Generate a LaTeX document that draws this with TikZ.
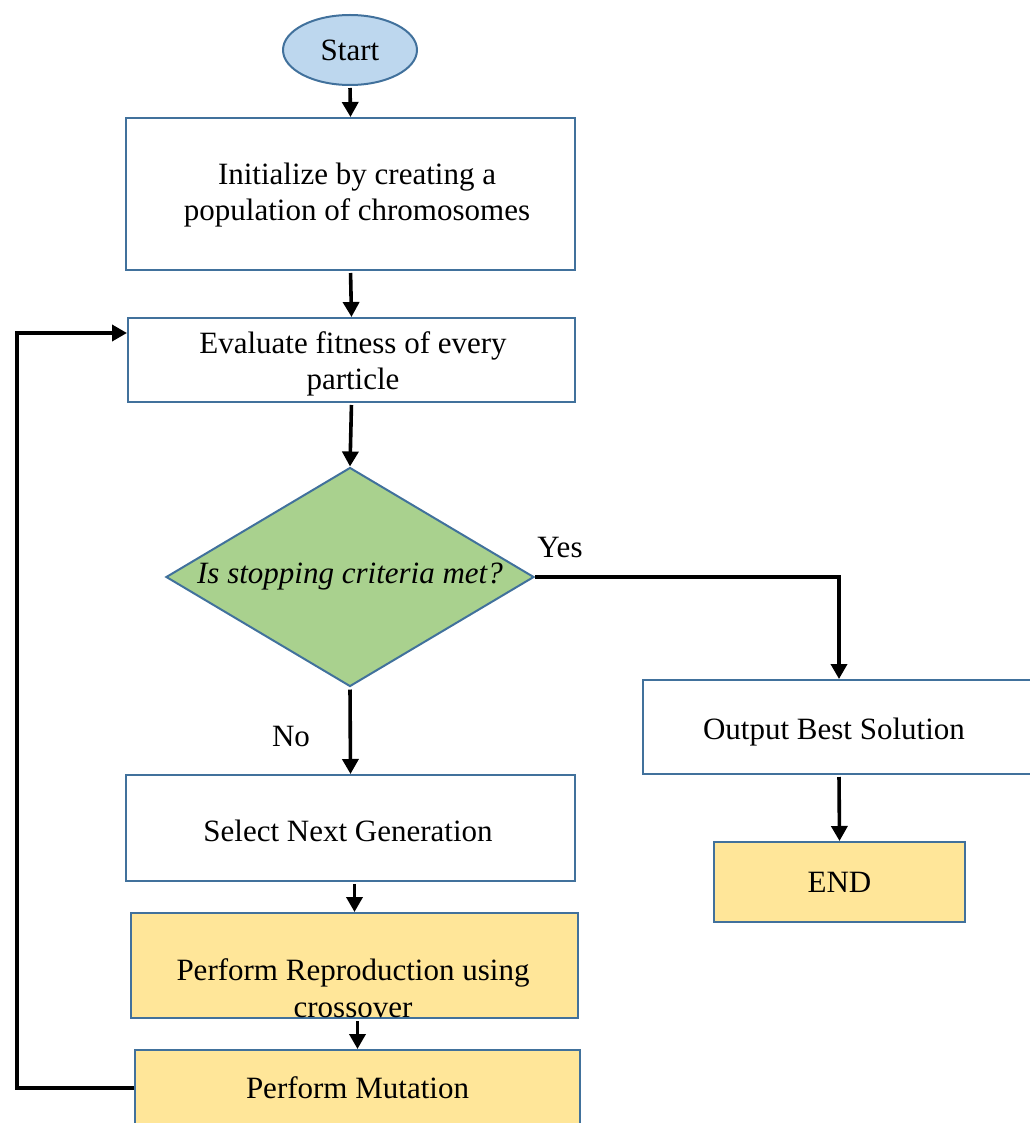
\documentclass[tikz,border=0pt]{standalone}
\usepackage{fontspec}
\setmainfont{Liberation Serif}
\usetikzlibrary{shapes.geometric,arrows.meta}
\definecolor{bord}{HTML}{41719C}
\definecolor{lblue}{HTML}{BDD7EE}
\definecolor{lgreen}{HTML}{A9D18E}
\definecolor{lyellow}{HTML}{FFE699}
\tikzset{
  box/.style={draw=bord, line width=2pt, fill=white, inner sep=0pt, align=center},
  ybox/.style={box, fill=lyellow},
  arr/.style={line width=3.6pt, -{Triangle[length=15pt,width=16pt]}, shorten <=2pt},
  txt/.style={inner sep=0pt, align=center}
}
\begin{document}
\begin{tikzpicture}[x=1pt,y=-1pt, font=\fontsize{31}{36.5}\selectfont]
\useasboundingbox (0,0) rectangle (1029,1123);
\node[box, ellipse, fill=lblue, minimum width=134, minimum height=70] (start) at (350,50) {Start};
\node[box, minimum width=449, minimum height=152] (init) at (350.5,194) {};
\node[txt] (inittxt) at (357,195) {Initialize by creating a\\population of chromosomes};
\node[box, minimum width=447, minimum height=84] (eval) at (351.5,360) {};
\node[txt] (evaltxt) at (353,364) {Evaluate fitness of every\\particle};
\node[box, diamond, fill=lgreen, aspect=1.68, minimum width=368, minimum height=219] (dia) at (350,577) {\itshape Is stopping criteria met?};
\node[box, minimum width=392, minimum height=94] (out) at (839,727) {};
\node[txt] (outtxt) at (834,732) {Output Best Solution};
\node[ybox, minimum width=251, minimum height=80] (end) at (839.5,882) {END};
\node[box, minimum width=449, minimum height=106] (sel) at (350.5,828) {};
\node[txt] (seltxt) at (348,831) {Select Next Generation};
\node[ybox, minimum width=447, minimum height=105] (rep) at (354.5,965.5) {};
\node[txt] (reptxt) at (353,988) {Perform Reproduction using\\crossover};
\node[ybox, minimum width=445, minimum height=76] (mut) at (357.5,1088) {Perform Mutation};
\node[txt] (yes) at (560,547) {Yes};
\node[txt] (no) at (291,736) {No};
\coordinate (fb) at (17,333);
\draw[arr] (start.south) -- (init.north);
\draw[arr] (init.south) -- (eval.north);
\draw[arr] (eval.south) -- (dia.north);
\draw[arr, shorten <=0pt] (dia.east) -| (out.north);
\draw[arr] (out.south) -- (end.north);
\draw[arr] (dia.south) -- (sel.north);
\draw[arr] (sel.south -| rep.north) -- (rep.north);
\draw[arr] (rep.south -| mut.north) -- (mut.north);
\draw[arr, shorten <=0pt] (mut.west) -| (fb) -- (fb -| eval.west);
\end{tikzpicture}
\end{document}
